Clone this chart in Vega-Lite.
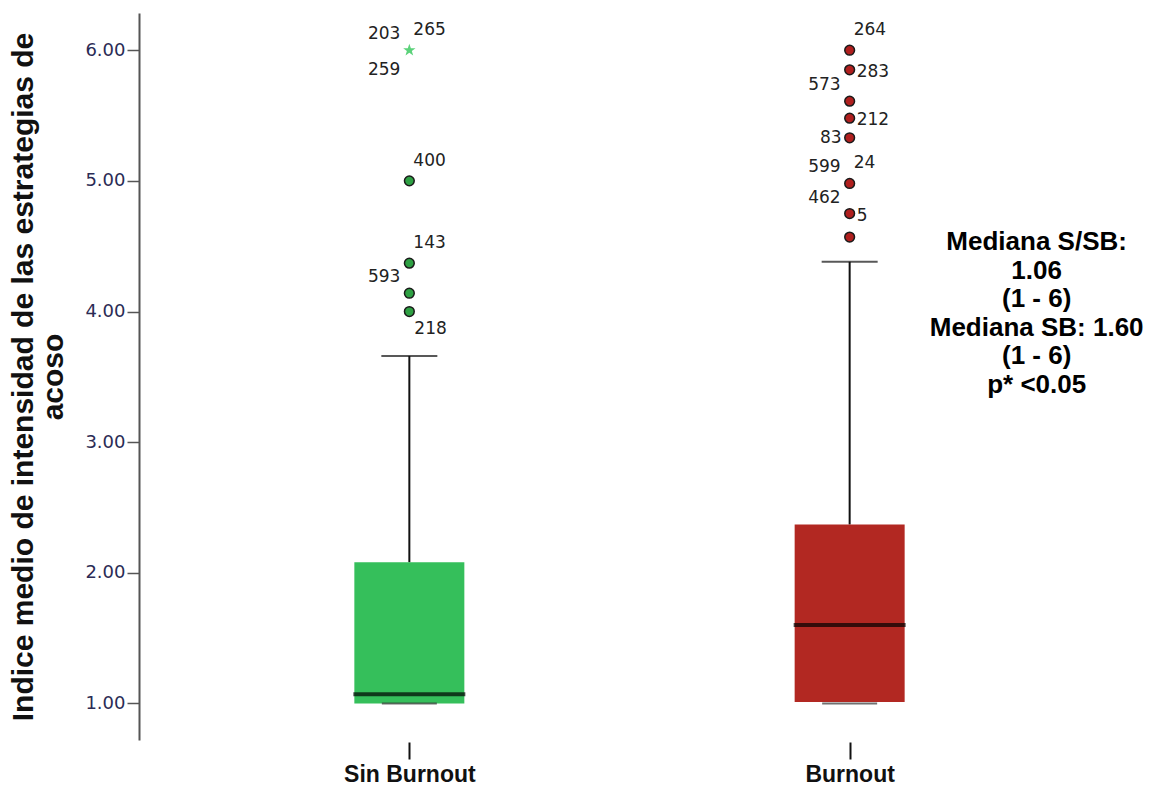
{
  "$schema": "https://vega.github.io/schema/vega-lite/v6.json",
  "width": 981,
  "height": 727,
  "autosize": "none",
  "padding": {"left": 139, "top": 13, "right": 33, "bottom": 47},
  "background": "white",
  "config": {"view": {"stroke": null}},
  "datasets": {
    "cajas": [
      {"grupo": "Sin Burnout", "bigote_inf": 1.0, "q1": 1.0, "mediana": 1.07, "q3": 2.08, "bigote_sup": 3.66},
      {"grupo": "Burnout", "bigote_inf": 1.0, "q1": 1.01, "mediana": 1.60, "q3": 2.37, "bigote_sup": 4.38}
    ],
    "atipicos": [
      {"grupo": "Sin Burnout", "valor": 6.0, "tipo": "extremo"},
      {"grupo": "Sin Burnout", "valor": 5.0, "tipo": "atipico"},
      {"grupo": "Sin Burnout", "valor": 4.37, "tipo": "atipico"},
      {"grupo": "Sin Burnout", "valor": 4.14, "tipo": "atipico"},
      {"grupo": "Sin Burnout", "valor": 4.0, "tipo": "atipico"},
      {"grupo": "Burnout", "valor": 6.0, "tipo": "atipico"},
      {"grupo": "Burnout", "valor": 5.85, "tipo": "atipico"},
      {"grupo": "Burnout", "valor": 5.61, "tipo": "atipico"},
      {"grupo": "Burnout", "valor": 5.48, "tipo": "atipico"},
      {"grupo": "Burnout", "valor": 5.33, "tipo": "atipico"},
      {"grupo": "Burnout", "valor": 4.98, "tipo": "atipico"},
      {"grupo": "Burnout", "valor": 4.75, "tipo": "atipico"},
      {"grupo": "Burnout", "valor": 4.57, "tipo": "atipico"}
    ],
    "etiquetas": [
      {"grupo": "Sin Burnout", "caso": "203", "valor": 6.0, "posicion": "arriba-izq"},
      {"grupo": "Sin Burnout", "caso": "265", "valor": 6.0, "posicion": "arriba-der"},
      {"grupo": "Sin Burnout", "caso": "259", "valor": 6.0, "posicion": "abajo-izq"},
      {"grupo": "Sin Burnout", "caso": "400", "valor": 5.0, "posicion": "arriba-der"},
      {"grupo": "Sin Burnout", "caso": "143", "valor": 4.37, "posicion": "arriba-der"},
      {"grupo": "Sin Burnout", "caso": "593", "valor": 4.14, "posicion": "arriba-izq"},
      {"grupo": "Sin Burnout", "caso": "218", "valor": 4.0, "posicion": "abajo-der"},
      {"grupo": "Burnout", "caso": "264", "valor": 6.0, "posicion": "arriba-der"},
      {"grupo": "Burnout", "caso": "283", "valor": 5.85, "posicion": "der"},
      {"grupo": "Burnout", "caso": "573", "valor": 5.61, "posicion": "arriba-izq"},
      {"grupo": "Burnout", "caso": "212", "valor": 5.48, "posicion": "der"},
      {"grupo": "Burnout", "caso": "83", "valor": 5.33, "posicion": "izq"},
      {"grupo": "Burnout", "caso": "599", "valor": 4.98, "posicion": "arriba-izq"},
      {"grupo": "Burnout", "caso": "24", "valor": 4.98, "posicion": "arriba-der"},
      {"grupo": "Burnout", "caso": "462", "valor": 4.75, "posicion": "arriba-izq"},
      {"grupo": "Burnout", "caso": "5", "valor": 4.75, "posicion": "der"}
    ],
    "nota": [
      {"grupo": "Burnout", "valor": 4.53, "texto": "Mediana S/SB:\n1.06\n(1 - 6)\nMediana SB: 1.60\n(1 - 6)\np* <0.05"}
    ]
  },
  "layer": [
    {
      "data": {"name": "cajas"},
      "mark": {"type": "rule", "color": "#111111", "strokeWidth": 2},
      "encoding": {
        "x": {
          "field": "grupo",
          "type": "nominal",
          "scale": {"type": "point", "domain": ["Sin Burnout", "Burnout"], "padding": 0.614},
          "axis": {
            "orient": "bottom",
            "title": null,
            "labelAngle": 0,
            "domain": false,
            "tickSize": 17,
            "tickWidth": 2,
            "tickColor": "#111111",
            "offset": 2,
            "labelFont": "Liberation Sans",
            "labelFontSize": 23,
            "labelFontWeight": "bold",
            "labelColor": "#111111",
            "labelPadding": 4
          }
        },
        "y": {
          "field": "q3",
          "type": "quantitative",
          "scale": {"domain": [0.72, 6.285], "nice": false, "zero": false},
          "axis": {
            "orient": "left",
            "title": ["Indice medio de intensidad de las estrategias de", "acoso"],
            "titleFont": "Liberation Sans",
            "titleFontSize": 30,
            "titleFontWeight": "bold",
            "titleColor": "#111111",
            "titleLineHeight": 30,
            "titlePadding": 16,
            "values": [1, 2, 3, 4, 5, 6],
            "format": ".2f",
            "labelFont": "DejaVu Sans",
            "labelFontSize": 18,
            "labelColor": "#2b2b55",
            "labelPadding": 2,
            "tickSize": 12,
            "tickColor": "#555555",
            "tickWidth": 1.5,
            "domainColor": "#555555",
            "domainWidth": 2,
            "grid": false
          }
        },
        "y2": {"field": "bigote_sup"}
      }
    },
    {
      "data": {"name": "cajas"},
      "mark": {"type": "bar", "width": 110},
      "encoding": {
        "x": {"field": "grupo", "type": "nominal"},
        "y": {"field": "q1", "type": "quantitative"},
        "y2": {"field": "q3"},
        "color": {
          "field": "grupo",
          "type": "nominal",
          "scale": {"domain": ["Sin Burnout", "Burnout"], "range": ["#35bf5b", "#b22822"]},
          "legend": null
        }
      }
    },
    {
      "data": {"name": "cajas"},
      "mark": {"type": "tick", "color": "#111111", "size": 56, "thickness": 2},
      "encoding": {"x": {"field": "grupo", "type": "nominal"}, "y": {"field": "bigote_sup", "type": "quantitative"}}
    },
    {
      "data": {"name": "cajas"},
      "mark": {"type": "tick", "color": "#333333", "size": 55, "thickness": 2},
      "encoding": {"x": {"field": "grupo", "type": "nominal"}, "y": {"field": "bigote_inf", "type": "quantitative"}}
    },
    {
      "data": {"name": "cajas"},
      "mark": {"type": "tick", "color": "#000000", "size": 112, "thickness": 4},
      "encoding": {"x": {"field": "grupo", "type": "nominal"}, "y": {"field": "mediana", "type": "quantitative"}}
    },
    {
      "data": {"name": "atipicos"},
      "transform": [{"filter": "datum.tipo === 'atipico'"}],
      "mark": {"type": "point", "shape": "circle", "filled": true, "size": 95, "stroke": "#1a1a1a", "strokeWidth": 1.5, "opacity": 1},
      "encoding": {
        "x": {"field": "grupo", "type": "nominal"},
        "y": {"field": "valor", "type": "quantitative"},
        "fill": {"condition": {"test": "datum.grupo === 'Burnout'", "value": "#b01f1e"}, "value": "#2ea043"}
      }
    },
    {
      "data": {"name": "atipicos"},
      "transform": [{"filter": "datum.tipo === 'extremo'"}],
      "mark": {"type": "point", "shape": "M0,-1L0.235,-0.324L0.951,-0.309L0.38,0.124L0.588,0.809L0,0.4L-0.588,0.809L-0.38,0.124L-0.951,-0.309L-0.235,-0.324Z", "filled": true, "size": 169, "fill": "#5bd27a", "opacity": 1},
      "encoding": {"x": {"field": "grupo", "type": "nominal"}, "y": {"field": "valor", "type": "quantitative"}}
    },
    {
      "data": {"name": "etiquetas"},
      "transform": [{"filter": "datum.posicion === 'arriba-der'"}],
      "mark": {"type": "text", "align": "left", "baseline": "middle", "dx": 4, "dy": -20, "font": "DejaVu Sans", "fontSize": 17, "color": "#222222"},
      "encoding": {"x": {"field": "grupo", "type": "nominal"}, "y": {"field": "valor", "type": "quantitative"}, "text": {"field": "caso", "type": "nominal"}}
    },
    {
      "data": {"name": "etiquetas"},
      "transform": [{"filter": "datum.posicion === 'arriba-izq'"}],
      "mark": {"type": "text", "align": "right", "baseline": "middle", "dx": -9, "dy": -16, "font": "DejaVu Sans", "fontSize": 17, "color": "#222222"},
      "encoding": {"x": {"field": "grupo", "type": "nominal"}, "y": {"field": "valor", "type": "quantitative"}, "text": {"field": "caso", "type": "nominal"}}
    },
    {
      "data": {"name": "etiquetas"},
      "transform": [{"filter": "datum.posicion === 'abajo-izq'"}],
      "mark": {"type": "text", "align": "right", "baseline": "middle", "dx": -9, "dy": 20, "font": "DejaVu Sans", "fontSize": 17, "color": "#222222"},
      "encoding": {"x": {"field": "grupo", "type": "nominal"}, "y": {"field": "valor", "type": "quantitative"}, "text": {"field": "caso", "type": "nominal"}}
    },
    {
      "data": {"name": "etiquetas"},
      "transform": [{"filter": "datum.posicion === 'abajo-der'"}],
      "mark": {"type": "text", "align": "left", "baseline": "middle", "dx": 5, "dy": 17, "font": "DejaVu Sans", "fontSize": 17, "color": "#222222"},
      "encoding": {"x": {"field": "grupo", "type": "nominal"}, "y": {"field": "valor", "type": "quantitative"}, "text": {"field": "caso", "type": "nominal"}}
    },
    {
      "data": {"name": "etiquetas"},
      "transform": [{"filter": "datum.posicion === 'der'"}],
      "mark": {"type": "text", "align": "left", "baseline": "middle", "dx": 7, "dy": 2, "font": "DejaVu Sans", "fontSize": 17, "color": "#222222"},
      "encoding": {"x": {"field": "grupo", "type": "nominal"}, "y": {"field": "valor", "type": "quantitative"}, "text": {"field": "caso", "type": "nominal"}}
    },
    {
      "data": {"name": "etiquetas"},
      "transform": [{"filter": "datum.posicion === 'izq'"}],
      "mark": {"type": "text", "align": "right", "baseline": "middle", "dx": -8, "dy": 0, "font": "DejaVu Sans", "fontSize": 17, "color": "#222222"},
      "encoding": {"x": {"field": "grupo", "type": "nominal"}, "y": {"field": "valor", "type": "quantitative"}, "text": {"field": "caso", "type": "nominal"}}
    },
    {
      "data": {"name": "nota"},
      "mark": {"type": "text", "align": "center", "baseline": "middle", "dx": 187, "lineBreak": "\n", "lineHeight": 28.5, "font": "Liberation Sans", "fontSize": 26, "fontWeight": "bold", "color": "#000000"},
      "encoding": {"x": {"field": "grupo", "type": "nominal"}, "y": {"field": "valor", "type": "quantitative"}, "text": {"field": "texto", "type": "nominal"}}
    }
  ]
}
